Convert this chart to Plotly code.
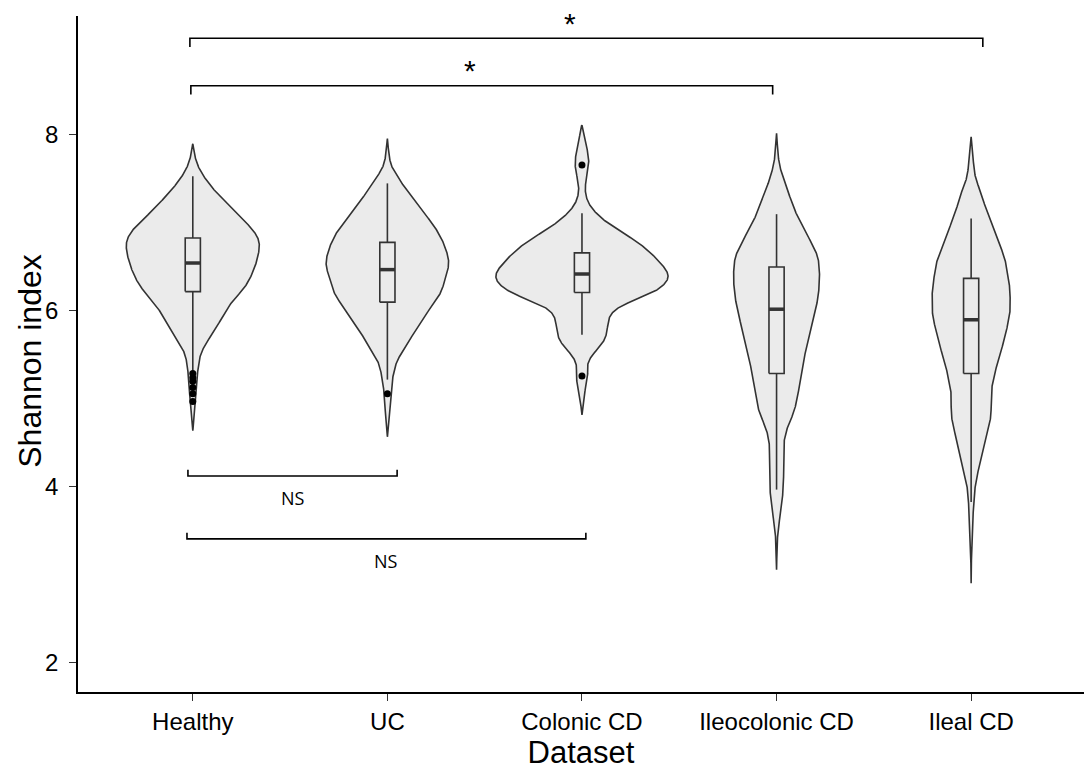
import numpy as np
import plotly.graph_objects as go

# ---------------- data ----------------
groups = ["Healthy", "UC", "Colonic CD", "Ileocolonic CD", "Ileal CD"]
positions = [1, 2, 3, 4, 5]

# violin density profiles (Shannon value, relative density; 1 = widest violin)
healthy_y = [4.64, 5.03, 5.33, 5.48, 5.63, 5.78, 5.94, 6.125, 6.24, 6.39, 6.50, 6.62, 6.75, 6.81, 6.96, 7.11, 7.30, 7.49, 7.68, 7.80, 7.90]
healthy_d = [0.0, 0.034, 0.057, 0.08, 0.148, 0.25, 0.34, 0.46, 0.57, 0.66, 0.705, 0.74, 0.76, 0.75, 0.65, 0.49, 0.31, 0.15, 0.045, 0.015, 0.0]

uc_y = [4.57, 4.84, 5.03, 5.22, 5.41, 5.59, 5.78, 5.97, 6.16, 6.28, 6.35, 6.54, 6.73, 6.92, 7.11, 7.30, 7.49, 7.68, 7.85, 7.96]
uc_d = [0.0, 0.023, 0.034, 0.057, 0.10, 0.205, 0.32, 0.443, 0.58, 0.635, 0.65, 0.70, 0.655, 0.56, 0.42, 0.27, 0.14, 0.034, 0.01, 0.0]

colonic_y = [4.82, 4.95, 5.10, 5.25, 5.37, 5.48, 5.595, 5.71, 5.82, 5.94, 6.05, 6.16, 6.28, 6.39, 6.58, 6.77, 6.92, 7.03, 7.15, 7.26, 7.39, 7.53, 7.66, 7.79, 7.905, 8.11]
colonic_d = [0.0, 0.015, 0.034, 0.068, 0.057, 0.10, 0.205, 0.275, 0.29, 0.31, 0.42, 0.70, 0.92, 0.99, 0.86, 0.65, 0.41, 0.25, 0.125, 0.057, 0.034, 0.057, 0.08, 0.068, 0.045, 0.0]

ileocolonic_y = [3.06, 3.32, 3.51, 3.70, 3.89, 4.08, 4.27, 4.46, 4.65, 4.84, 5.03, 5.25, 5.44, 5.63, 5.82, 6.01, 6.20, 6.39, 6.58, 6.77, 6.96, 7.15, 7.34, 7.53, 7.72, 8.02]
ileocolonic_d = [0.0, 0.006, 0.017, 0.045, 0.068, 0.08, 0.08, 0.08, 0.114, 0.193, 0.24, 0.273, 0.307, 0.352, 0.398, 0.443, 0.477, 0.489, 0.477, 0.398, 0.295, 0.205, 0.136, 0.068, 0.023, 0.0]

ileal_y = [2.905, 3.21, 3.51, 3.70, 3.89, 4.08, 4.27, 4.46, 4.65, 4.84, 5.06, 5.25, 5.44, 5.63, 5.82, 6.01, 6.20, 6.39, 6.58, 6.77, 6.96, 7.15, 7.34, 7.53, 7.72, 7.98]
ileal_d = [0.0, 0.004, 0.011, 0.023, 0.034, 0.057, 0.102, 0.148, 0.193, 0.227, 0.227, 0.26, 0.307, 0.364, 0.41, 0.443, 0.443, 0.42, 0.386, 0.318, 0.24, 0.17, 0.114, 0.045, 0.023, 0.0]

profiles_y = [healthy_y, uc_y, colonic_y, ileocolonic_y, ileal_y]
profiles_d = [healthy_d, uc_d, colonic_d, ileocolonic_d, ileal_d]

# box-plot statistics
q1 = [6.22, 6.10, 6.21, 5.29, 5.29]
median = [6.545, 6.47, 6.42, 6.02, 5.90]
q3 = [6.83, 6.78, 6.66, 6.50, 6.37]
lower_whisker = [5.32, 5.22, 5.73, 3.97, 3.83]
upper_whisker = [7.53, 7.45, 7.11, 7.10, 7.05]
outliers = [[5.29, 5.24, 5.20, 5.13, 5.06, 4.97], [5.06], [7.66, 5.26], [], []]

# significance brackets: (x_start, x_end, y, label)
sig_brackets = [(0.985, 5.06, 9.10, "*"), (0.99, 3.98, 8.56, "*")]
ns_brackets = [(0.975, 2.05, 4.125, "NS"), (0.97, 3.02, 3.41, "NS")]


def pchip(xk, yk, xs):
    xk = np.asarray(xk, float)
    yk = np.asarray(yk, float)
    h = np.diff(xk)
    delta = np.diff(yk) / h
    n = len(xk)
    m = np.zeros(n)
    for k in range(1, n - 1):
        if delta[k - 1] * delta[k] > 0:
            w1 = 2 * h[k] + h[k - 1]
            w2 = h[k] + 2 * h[k - 1]
            m[k] = (w1 + w2) / (w1 / delta[k - 1] + w2 / delta[k])
    m[0] = delta[0]
    m[-1] = delta[-1]
    out = np.empty_like(xs)
    idx = np.clip(np.searchsorted(xk, xs) - 1, 0, n - 2)
    for j, x in enumerate(xs):
        k = idx[j]
        t = (x - xk[k]) / h[k]
        h00 = 2 * t**3 - 3 * t**2 + 1
        h10 = t**3 - 2 * t**2 + t
        h01 = -2 * t**3 + 3 * t**2
        h11 = t**3 - t**2
        out[j] = h00 * yk[k] + h10 * h[k] * m[k] + h01 * yk[k + 1] + h11 * h[k] * m[k + 1]
    return np.maximum(out, 0)


def smooth_profile(ys, ds, step=0.005, sigma=0.045):
    grid = np.arange(ys[0], ys[-1] + step / 2, step)
    dens = pchip(ys, ds, grid)
    half = int(4 * sigma / step)
    k = np.exp(-0.5 * (np.arange(-half, half + 1) * step / sigma) ** 2)
    k /= k.sum()
    padded = np.concatenate([np.zeros(half), dens, np.zeros(half)])
    sm = np.convolve(padded, k, mode="valid")
    sm[0] = 0
    sm[-1] = 0
    return grid, sm


# ---------------- figure ----------------
violin_scale = 0.4525  # x-units at density 1
box_half = 0.039
outline = "#333333"
fill = "#EBEBEB"

fig = go.Figure()

for pos, ys, ds in zip(positions, profiles_y, profiles_d):
    grid, dens = smooth_profile(ys, ds)
    xr = pos + dens * violin_scale
    xl = pos - dens * violin_scale
    px = np.concatenate([xr, xl[::-1]])
    py = np.concatenate([grid, grid[::-1]])
    fig.add_trace(go.Scatter(x=px, y=py, mode="lines", fill="toself", fillcolor=fill,
                             line=dict(color=outline, width=1.6),
                             hoverinfo="skip", showlegend=False))

for i, pos in enumerate(positions):
    fig.add_trace(go.Scatter(x=[pos, pos, None, pos, pos],
                             y=[q3[i], upper_whisker[i], None, q1[i], lower_whisker[i]],
                             mode="lines", line=dict(color=outline, width=1.6),
                             showlegend=False, hoverinfo="skip"))
    fig.add_trace(go.Scatter(x=[pos - box_half, pos + box_half, pos + box_half, pos - box_half, pos - box_half],
                             y=[q1[i], q1[i], q3[i], q3[i], q1[i]],
                             mode="lines", line=dict(color=outline, width=1.6),
                             showlegend=False, hoverinfo="skip"))
    fig.add_trace(go.Scatter(x=[pos - box_half, pos + box_half], y=[median[i], median[i]],
                             mode="lines", line=dict(color=outline, width=3.5),
                             showlegend=False, hoverinfo="skip"))
    if outliers[i]:
        fig.add_trace(go.Scatter(x=[pos] * len(outliers[i]), y=outliers[i], mode="markers",
                                 marker=dict(color="black", size=7), showlegend=False,
                                 hoverinfo="skip"))

shapes = []
annotations = []
for x0, x1, y, lab in sig_brackets:
    tip = 0.1
    shapes.append(dict(type="path", xref="x", yref="y",
                       path=f"M {x0},{y - tip} L {x0},{y} L {x1},{y} L {x1},{y - tip}",
                       line=dict(color="black", width=1.6)))
    annotations.append(dict(x=(x0 + x1) / 2 - 0.02 * (x1 - x0), y=y + 0.17, text=lab, showarrow=False,
                            font=dict(size=30, color="black", family="Liberation Sans, Arial"),
                            xref="x", yref="y", yanchor="middle"))
for x0, x1, y, lab in ns_brackets:
    tip = 0.07
    shapes.append(dict(type="path", xref="x", yref="y",
                       path=f"M {x0},{y + tip} L {x0},{y} L {x1},{y} L {x1},{y + tip}",
                       line=dict(color="black", width=1.6)))
    annotations.append(dict(x=(x0 + x1) / 2, y=y - 0.25, text=lab, showarrow=False,
                            font=dict(size=18, color="black", family="Open Sans, Noto Sans"),
                            xref="x", yref="y", yanchor="middle"))

# y-axis title placed as rotated text
annotations.append(dict(text="Shannon index", xref="paper", yref="paper", x=0, y=0.49,
                        xshift=-48, showarrow=False, textangle=-90,
                        xanchor="center", yanchor="middle",
                        font=dict(size=32, color="black", family="Liberation Sans, Arial")))

fig.update_layout(
    width=1084, height=771,
    margin=dict(l=78, r=0, t=16, b=79),
    plot_bgcolor="white", paper_bgcolor="white",
    shapes=shapes, annotations=annotations,
    font=dict(family="Liberation Sans, Arial", color="black"),
    xaxis=dict(range=[0.41, 5.58], tickvals=positions, ticktext=groups,
               showline=True, linecolor="black", linewidth=1.6, showgrid=False, zeroline=False,
               ticks="outside", ticklen=7, tickwidth=1.3, tickcolor="#333333",
               tickfont=dict(size=24, color="black", family="Liberation Sans, Arial"),
               title=dict(text="Dataset", font=dict(size=31, color="black", family="Liberation Sans, Arial"), standoff=8)),
    yaxis=dict(range=[1.67, 9.352], tickvals=[2, 4, 6, 8],
               showline=True, linecolor="black", linewidth=1.6, showgrid=False, zeroline=False,
               ticks="outside", ticklen=7, tickwidth=1.3, tickcolor="#333333",
               ticklabelstandoff=6,
               tickfont=dict(size=24, color="black", family="Liberation Sans, Arial")),
)

fig.write_html("out.html")
